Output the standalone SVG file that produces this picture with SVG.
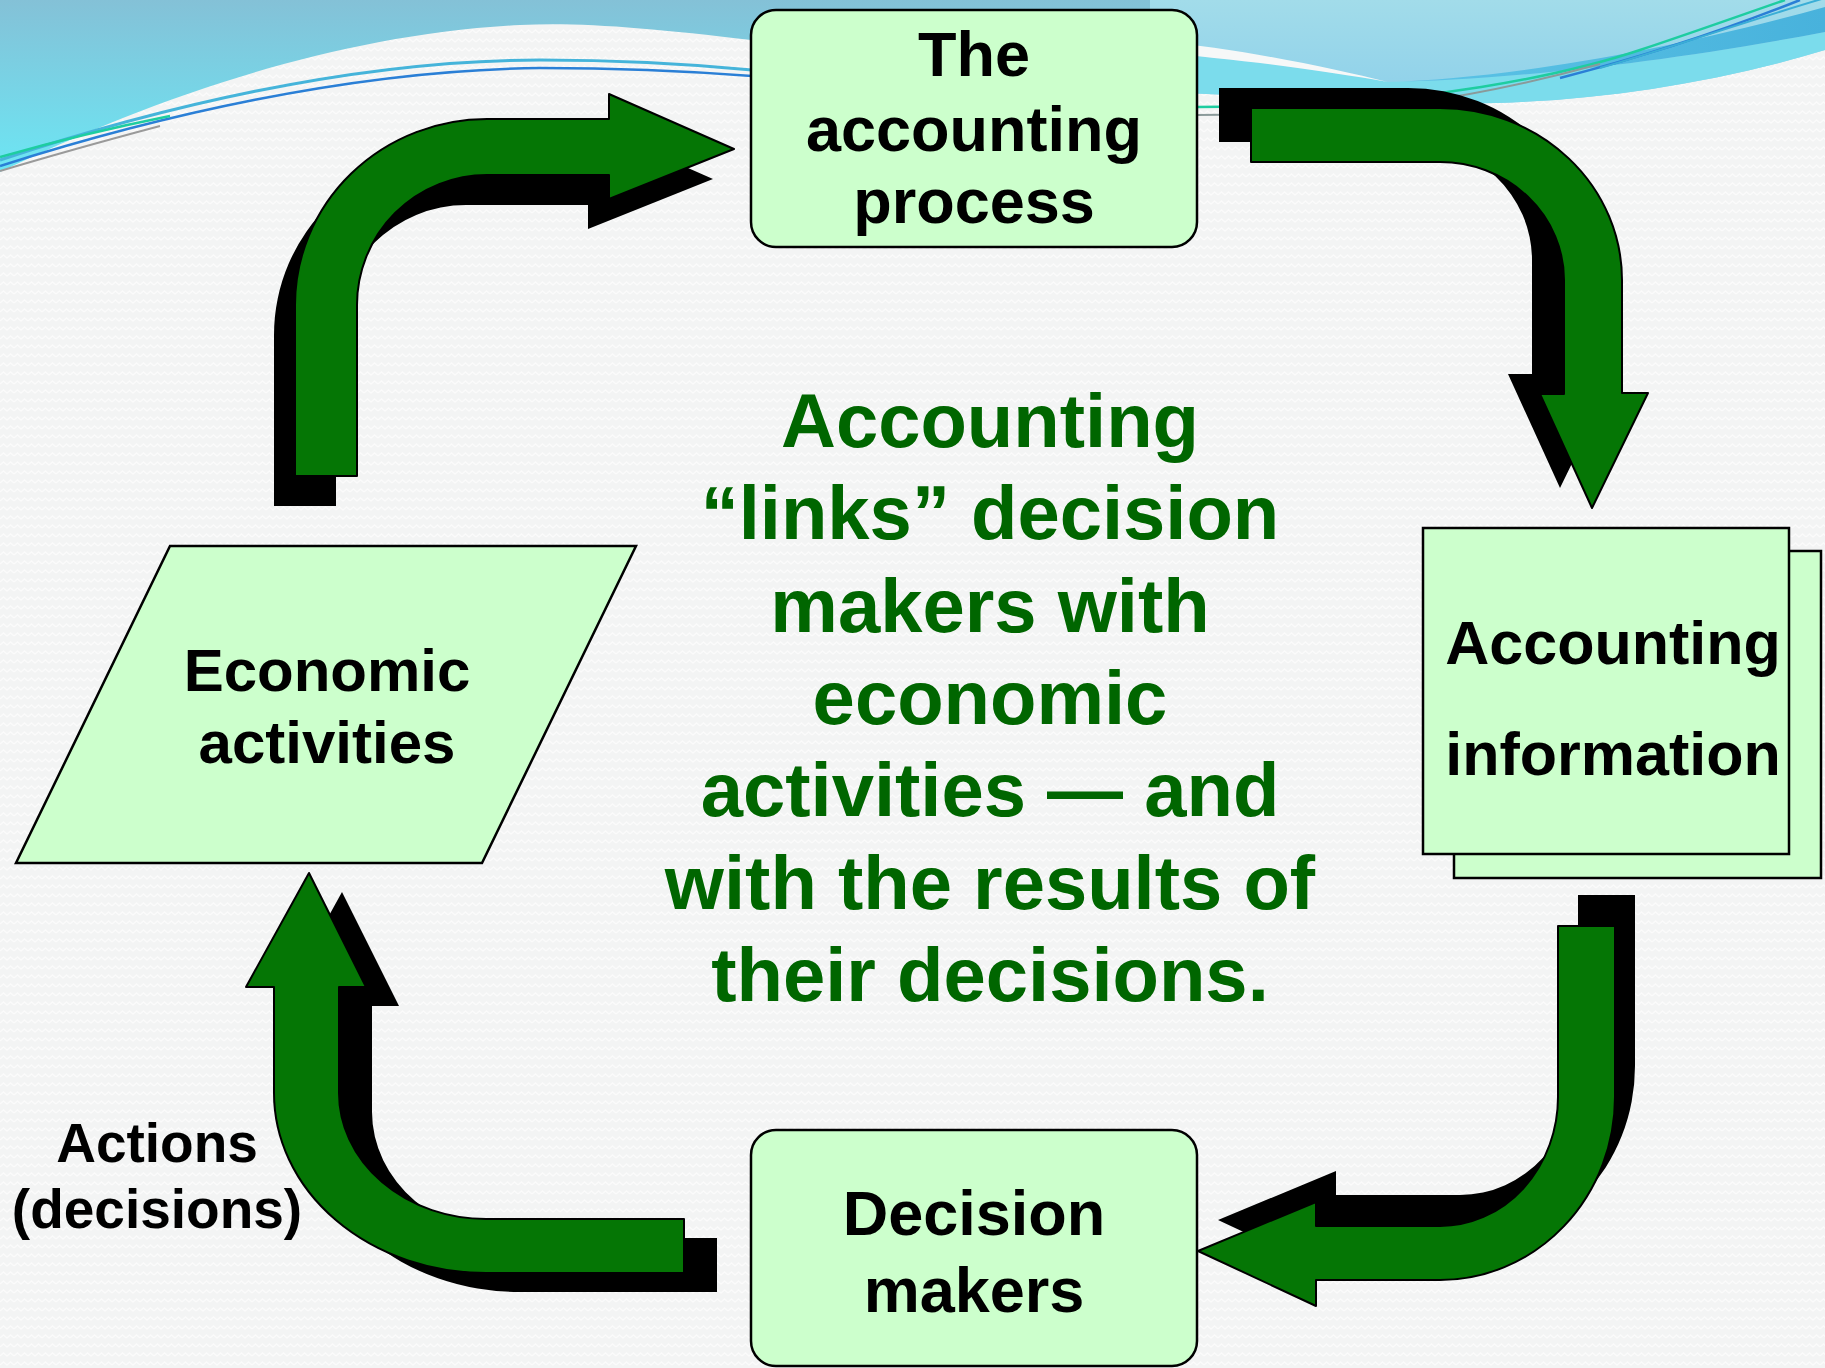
<svg xmlns="http://www.w3.org/2000/svg" width="1825" height="1368" viewBox="0 0 1825 1368">
  <defs>
    <pattern id="weave" width="14" height="9" patternUnits="userSpaceOnUse">
      <rect width="14" height="9" fill="#F3F4F4"/>
      <polyline points="0,6 3.5,3 7,6 10.5,3 14,6" fill="none" stroke="#FBFBFB" stroke-width="1.4"/>
    </pattern>
    <linearGradient id="skyLeft" x1="0" y1="0" x2="0" y2="1">
      <stop offset="0" stop-color="#84C1D7"/>
      <stop offset="1" stop-color="#6CE6F4"/>
    </linearGradient>
    <linearGradient id="skyRight" x1="0" y1="0" x2="0" y2="1">
      <stop offset="0" stop-color="#A2DCEA"/>
      <stop offset="1" stop-color="#8ED0EA"/>
    </linearGradient>
    <linearGradient id="crescent" x1="0" y1="0" x2="1" y2="0">
      <stop offset="0" stop-color="#5CC4E6"/>
      <stop offset="1" stop-color="#48B2DC"/>
    </linearGradient>
    <style>
      .box { fill: #CCFFCC; stroke: #000; stroke-width: 2.5; }
      .lbl { font-family: "Liberation Sans", Arial, sans-serif; font-weight: bold; fill: #000; text-anchor: middle; }
      .big { font-family: "Liberation Sans", Arial, sans-serif; font-weight: bold; fill: #006600; text-anchor: middle; font-size: 76px; }
      .arrow { fill: #057605; stroke: #000; stroke-width: 2; stroke-linejoin: round; }
      .shadow { fill: #000; }
    </style>
  </defs>

  <!-- page background with fine woven texture -->
  <rect width="1825" height="1368" fill="url(#weave)"/>

  <!-- header swoosh -->
  <g id="header">
    <path d="M0 0 H1190 V60 L751 40 C650 28 580 22 520 25 C330 35 150 100 0 172 Z" fill="url(#skyLeft)"/>
    <path d="M1150 0 H1825 V50 C1700 88 1560 106 1440 103 C1330 100 1250 95 1150 92 Z" fill="url(#skyRight)"/>
    <path d="M1150 52 C1250 60 1330 72 1388 82 C1500 80 1650 65 1825 32 V50 C1700 88 1560 106 1440 103 C1330 100 1250 95 1150 92 Z" fill="#7BDCEC"/>
    <path d="M1150 40 C1250 50 1330 68 1388 82 C1330 72 1250 60 1150 52 Z" fill="#F6F8F8"/>
    <path d="M1388 82 C1500 78 1650 55 1825 7 V32 C1650 65 1500 80 1388 82 Z" fill="url(#crescent)"/>
    <!-- thin swoosh lines -->
    <path d="M0 160 C150 110 350 60 540 60 C620 60 700 65 752 70" fill="none" stroke="#45B4DA" stroke-width="3"/>
    <path d="M0 166 C150 118 350 70 540 68 C620 68 700 72 752 76" fill="none" stroke="#2A7FD6" stroke-width="2.5"/>
    <path d="M0 157 C60 140 110 128 170 116" fill="none" stroke="#1ECDA0" stroke-width="2.5"/>
    <path d="M0 171 C50 156 100 142 160 126" fill="none" stroke="#9A9A9A" stroke-width="2"/>
    <path d="M1197 107 L1300 106 C1420 100 1550 80 1640 50 C1700 30 1750 12 1785 0" fill="none" stroke="#1ECDA0" stroke-width="2.5"/>
    <path d="M1197 115 L1300 114 C1420 108 1520 86 1600 64" fill="none" stroke="#8A9A9A" stroke-width="2"/>
    <path d="M1560 78 C1650 55 1730 28 1800 0" fill="none" stroke="#2A7FD6" stroke-width="2.5"/>
    <path d="M1600 68 C1680 45 1750 20 1825 -2" fill="none" stroke="#3AAED6" stroke-width="2"/>
  </g>

  <!-- bent arrows linking the four stages -->
  <g id="connectors">
    <g id="arrow-economic-to-process">
      <path class="shadow" transform="translate(-21 30)" d="M295 476 L295 305 A192 186 0 0 1 487 119 L609 119 L609 94 L734 149 L609 199 L609 175 L487 175 A130 130 0 0 0 357 305 L357 476 Z"/>
      <path class="arrow" d="M295 476 L295 305 A192 186 0 0 1 487 119 L609 119 L609 94 L734 149 L609 199 L609 175 L487 175 A130 130 0 0 0 357 305 L357 476 Z"/>
    </g>
    <g id="arrow-process-to-information">
      <path class="shadow" transform="translate(-32 -20)" d="M1251 108 L1440 108 A182 172 0 0 1 1622 280 L1622 393 L1648 393 L1592 508 L1540 394 L1564 394 L1564 280 A124 118 0 0 0 1440 162 L1251 162 Z"/>
      <path class="arrow" d="M1251 108 L1440 108 A182 172 0 0 1 1622 280 L1622 393 L1648 393 L1592 508 L1540 394 L1564 394 L1564 280 A124 118 0 0 0 1440 162 L1251 162 Z"/>
    </g>
    <g id="arrow-information-to-decision">
      <path class="shadow" transform="translate(20 -31)" d="M1558 926 L1615 926 L1615 1097 A175 183 0 0 1 1440 1280 L1316 1280 L1316 1306 L1198 1251 L1316 1202 L1316 1226 L1440 1226 A118 129 0 0 0 1558 1097 Z"/>
      <path class="arrow" d="M1558 926 L1615 926 L1615 1097 A175 183 0 0 1 1440 1280 L1316 1280 L1316 1306 L1198 1251 L1316 1202 L1316 1226 L1440 1226 A118 129 0 0 0 1558 1097 Z"/>
    </g>
    <g id="arrow-decision-to-economic">
      <path class="shadow" transform="translate(33 19)" d="M684 1219 L684 1273 L486 1273 A212 180 0 0 1 274 1093 L274 987 L246 987 L309 873 L366 987 L339 987 L339 1093 A147 126 0 0 0 486 1219 Z"/>
      <path class="arrow" d="M684 1219 L684 1273 L486 1273 A212 180 0 0 1 274 1093 L274 987 L246 987 L309 873 L366 987 L339 987 L339 1093 A147 126 0 0 0 486 1219 Z"/>
    </g>
  </g>

  <g id="node-accounting-process">
    <rect class="box" x="751" y="10" width="446" height="237" rx="25" ry="25"/>
    <text class="lbl" font-size="63" x="974" y="76">The</text>
    <text class="lbl" font-size="63" x="974" y="151">accounting</text>
    <text class="lbl" font-size="63" x="974" y="223">process</text>
  </g>

  <g id="node-accounting-information">
    <rect class="box" x="1454" y="551" width="367" height="327"/>
    <rect class="box" x="1423" y="528" width="366" height="326"/>
    <text class="lbl" font-size="61" x="1613" y="664">Accounting</text>
    <text class="lbl" font-size="61" x="1613" y="775">information</text>
  </g>

  <g id="node-decision-makers">
    <rect class="box" x="751" y="1130" width="446" height="236" rx="25" ry="25"/>
    <text class="lbl" font-size="63" x="974" y="1235">Decision</text>
    <text class="lbl" font-size="63" x="974" y="1312">makers</text>
  </g>

  <g id="node-economic-activities">
    <polygon class="box" points="170,546 636,546 482,863 16,863"/>
    <text class="lbl" font-size="60" x="327" y="691">Economic</text>
    <text class="lbl" font-size="60" x="327" y="763">activities</text>
  </g>

  <g id="label-actions">
    <text class="lbl" font-size="55" x="157" y="1162">Actions</text>
    <text class="lbl" font-size="55" x="157" y="1228">(decisions)</text>
  </g>

  <g id="caption">
    <text class="big" x="990" y="447">Accounting</text>
    <text class="big" x="990" y="539">“links” decision</text>
    <text class="big" x="990" y="632">makers with</text>
    <text class="big" x="990" y="724">economic</text>
    <text class="big" x="990" y="816">activities — and</text>
    <text class="big" x="990" y="909">with the results of</text>
    <text class="big" x="990" y="1001">their decisions.</text>
  </g>
</svg>
